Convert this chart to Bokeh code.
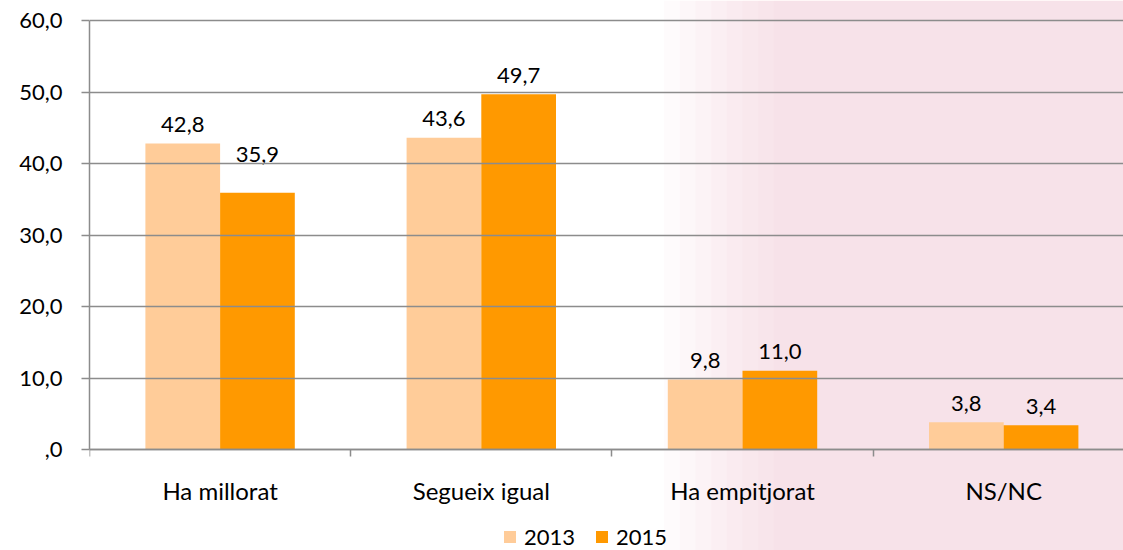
from bokeh.plotting import figure
from bokeh.models import (ColumnDataSource, FixedTicker, Legend, LegendItem, Range1d,
                          BoxAnnotation)
from bokeh.transform import dodge
from bokeh.core.properties import value
from bokeh.embed import file_html
from bokeh.resources import INLINE

# ---- data ----
categories = ["Ha millorat", "Segueix igual", "Ha empitjorat", "NS/NC"]
values_2013 = [42.8, 43.6, 9.8, 3.8]
values_2015 = [35.9, 49.7, 11.0, 3.4]
series_names = ["2013", "2015"]
y_ticks = [0, 10, 20, 30, 40, 50, 60]

# ---- style / layout ----
FONT = "Lato"
FS = "22px"
FS_CAT = "24px"
C13 = "#FFCC99"
C15 = "#FF9900"
GRID = "#8c8c8c"
BAR_W = 0.286
CAT_PX = 261.2          # pixel width of one category
W, H = 1123, 550
FRAME_LEFT = 89
TOP_PX = 20             # pixel row of the value 60
ZERO_PX = 449           # pixel row of the value 0
FRAME_W = W - FRAME_LEFT
PX_PER_UNIT = (ZERO_PX - TOP_PX) / y_ticks[-1]
Y_START = -(H - ZERO_PX) / PX_PER_UNIT        # frame runs to the bottom edge
Y_END = y_ticks[-1] + TOP_PX / PX_PER_UNIT    # ... and to the top edge
LABEL_GAP = -19          # screen px above bar top
LABEL_GAP_EXTRA = {("2015", 0): -19}   # label moved higher in the original


def fmt(v):
    s = f"{v:.1f}".replace(".", ",")
    return s[1:] if s.startswith("0,") else s


pos = [i + 0.5 for i in range(len(categories))]
off13 = [LABEL_GAP + LABEL_GAP_EXTRA.get(("2013", i), 0) for i in range(len(categories))]
off15 = [LABEL_GAP + LABEL_GAP_EXTRA.get(("2015", i), 0) for i in range(len(categories))]

source = ColumnDataSource(dict(
    x=pos, cat=categories,
    v13=values_2013, v15=values_2015,
    l13=[fmt(v) for v in values_2013], l15=[fmt(v) for v in values_2015],
    o13=off13, o15=off15,
))

p = figure(width=W, height=H, output_backend="svg", toolbar_location=None,
           x_range=Range1d(0, FRAME_W / CAT_PX), y_range=Range1d(Y_START, Y_END),
           min_border_left=FRAME_LEFT, min_border_right=0,
           min_border_top=0, min_border_bottom=0)
p.outline_line_color = None
p.background_fill_color = None
p.border_fill_color = "white"

# faint, softly fading pink tint of the slide background on the right-hand side
for k in range(8):
    p.add_layout(BoxAnnotation(left=2.2 + 0.06 * k, fill_color="#f0b8c2", fill_alpha=0.055,
                               line_color=None, level="underlay"))

r13 = p.vbar(x=dodge("x", -BAR_W / 2, range=p.x_range), top="v13", bottom=0, width=BAR_W,
             source=source, fill_color=C13, line_color=None)
r15 = p.vbar(x=dodge("x", BAR_W / 2, range=p.x_range), top="v15", bottom=0, width=BAR_W,
             source=source, fill_color=C15, line_color=None)

for fx, col, lab, off in ((-BAR_W / 2, "v13", "l13", "o13"), (BAR_W / 2, "v15", "l15", "o15")):
    p.text(x=dodge("x", fx, range=p.x_range), y=col, text=lab, source=source,
           text_align="center", text_baseline="alphabetic", y_offset=off,
           text_font=value(FONT), text_font_size=FS, text_color="black")

# grid
p.xgrid.visible = False
p.ygrid.ticker = FixedTicker(ticks=y_ticks)
p.ygrid.grid_line_color = GRID
p.ygrid.grid_line_width = 1.5
p.ygrid.level = "glyph"

# y axis
ya = p.yaxis[0]
ya.ticker = FixedTicker(ticks=y_ticks)
ya.bounds = (y_ticks[0], y_ticks[-1])
ya.major_label_overrides = {t: fmt(t) for t in y_ticks}
ya.major_tick_out = 8
ya.major_tick_in = 0
ya.minor_tick_line_color = None
ya.major_tick_line_color = GRID
ya.major_tick_line_width = 1.5
ya.axis_line_color = GRID
ya.axis_line_width = 1.5
ya.major_label_standoff = 19
ya.major_label_text_font = FONT
ya.major_label_text_font_size = FS
ya.major_label_text_color = "black"

# x axis, drawn at value 0
xa = p.xaxis[0]
xa.fixed_location = 0
xa.ticker = FixedTicker(ticks=pos, minor_ticks=list(range(len(categories) + 1)))
xa.major_label_overrides = {x: c for x, c in zip(pos, categories)}
xa.major_tick_line_color = None
xa.major_tick_out = 0
xa.major_tick_in = 0
xa.minor_tick_out = 7
xa.minor_tick_in = 0
xa.minor_tick_line_color = GRID
xa.minor_tick_line_width = 1.5
xa.axis_line_color = GRID
xa.axis_line_width = 1.5
xa.major_label_standoff = 19
xa.major_label_text_font = FONT
xa.major_label_text_font_size = FS_CAT
xa.major_label_text_color = "black"

legend = Legend(items=[LegendItem(label=series_names[0], renderers=[r13]),
                       LegendItem(label=series_names[1], renderers=[r15])],
                orientation="horizontal", location=(413, 0),
                glyph_width=15, glyph_height=15, label_standoff=7, spacing=19,
                padding=0, margin=0, border_line_color=None,
                background_fill_alpha=0,
                label_text_font=FONT, label_text_font_size=FS,
                label_text_color="black")
p.add_layout(legend, "center")

open("out.html", "w").write(file_html(p, INLINE))
